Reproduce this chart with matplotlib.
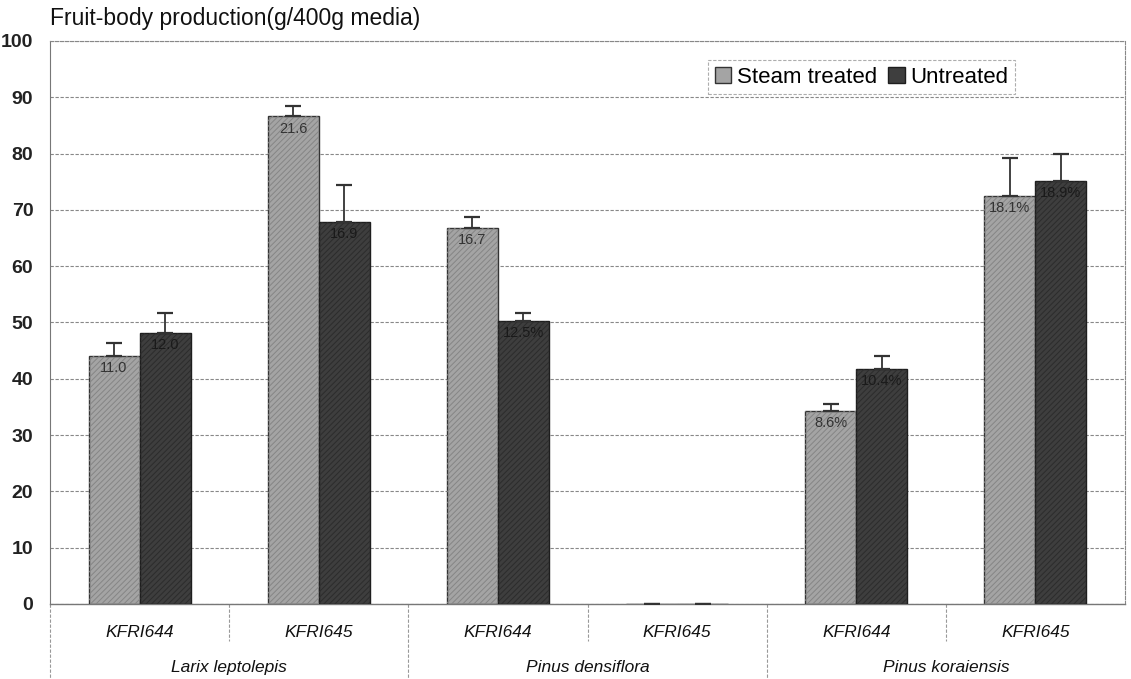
import matplotlib.pyplot as plt
import matplotlib.transforms as mtransforms
import numpy as np

plt.rcParams['font.family'] = ['Liberation Sans', 'DejaVu Sans']
plt.rcParams['hatch.linewidth'] = 0.7

species = ['Larix leptolepis', 'Pinus densiflora', 'Pinus koraiensis']
strains = ['KFRI644', 'KFRI645', 'KFRI644', 'KFRI645', 'KFRI644', 'KFRI645']

steam = [44.0, 86.6, 66.8, 0, 34.3, 72.5]
steam_err = [2.4, 1.9, 2.0, 0, 1.3, 6.8]
untreated = [48.2, 67.9, 50.2, 0, 41.7, 75.2]
untreated_err = [3.5, 6.6, 1.4, 0, 2.3, 4.8]

steam_lbl = ['11.0', '21.6', '16.7', '', '8.6%', '18.1%']
untreated_lbl = ['12.0', '16.9', '12.5%', '', '10.4%', '18.9%']

fig = plt.figure(figsize=(11.31, 6.79), dpi=100)
ax = fig.add_axes([50 / 1131, 1 - 604 / 679, 1075 / 1131, 563 / 679])

x = np.arange(len(strains))
w = 0.285

b1 = ax.bar(x - w / 2, steam, w, color='#a4a4a4', edgecolor='#333333', linewidth=1.0,
            label='Steam treated', zorder=3)
b2 = ax.bar(x + w / 2, untreated, w, color='#3e3e3e', edgecolor='#1e1e1e', linewidth=1.0,
            label='Untreated', zorder=3)
# fine diagonal texture on top of the fills
ax.bar(x - w / 2, steam, w, facecolor='none', edgecolor='#858585', linewidth=0,
       hatch='//////', zorder=3.5)
ax.bar(x + w / 2, untreated, w, facecolor='none', edgecolor='#2c2c2c', linewidth=0,
       hatch='//////', zorder=3.5)

ax.errorbar(x - w / 2, steam, yerr=[np.zeros(6), steam_err], fmt='none', ecolor='#333333',
            elinewidth=1.3, capsize=5.5, capthick=1.6, zorder=4)
ax.errorbar(x + w / 2, untreated, yerr=[np.zeros(6), untreated_err], fmt='none', ecolor='#333333',
            elinewidth=1.3, capsize=5.5, capthick=1.6, zorder=4)

for i in range(len(strains)):
    if steam_lbl[i]:
        ax.text(x[i] - w / 2, steam[i] - 0.9, steam_lbl[i], ha='center', va='top',
                fontsize=10.5, color='#333333', zorder=5)
    if untreated_lbl[i]:
        ax.text(x[i] + w / 2, untreated[i] - 0.9, untreated_lbl[i], ha='center', va='top',
                fontsize=10.5, color='#1a1a1a', zorder=5)

ax.set_xlim(-0.5, len(strains) - 0.5)
ax.set_ylim(0, 100)
ax.set_yticks(range(0, 101, 10))
ax.tick_params(axis='y', length=0, labelsize=14, pad=12)
ax.set_yticklabels([str(v) for v in range(0, 101, 10)], fontweight='bold', color='#222222')
ax.set_xticks([])
ax.yaxis.grid(True, color='#888888', linestyle=(0, (3, 1.5)), linewidth=0.8, zorder=0)
for s in ['top', 'right']:
    ax.spines[s].set_color('#888888')
    ax.spines[s].set_linestyle((0, (3, 1.5)))
    ax.spines[s].set_linewidth(0.8)
ax.spines['left'].set_color('#777777')
ax.spines['left'].set_linewidth(0.8)
ax.spines['bottom'].set_color('#777777')
ax.spines['bottom'].set_linewidth(1.0)

# category labels below the axis
trans = mtransforms.blended_transform_factory(ax.transData, ax.transAxes)
for i, s in enumerate(strains):
    ax.text(x[i], -0.05, s, transform=trans, ha='center', va='center',
            fontsize=12.5, style='italic', color='#111111')
for j, sp in enumerate(species):
    ax.text(2 * j + 0.5, -0.112, sp, transform=trans, ha='center', va='center',
            fontsize=12.5, style='italic', color='#111111')

for k in range(len(strains)):
    xb = k - 0.5
    depth = -0.14 if k % 2 == 0 else -0.065
    ax.plot([xb, xb], [0, depth], transform=trans, color='#999999', linewidth=0.8,
            linestyle=(0, (3, 1.5)), clip_on=False)

leg = ax.legend(loc='upper right', bbox_to_anchor=(0.908, 0.986), ncol=2, fontsize=16,
                frameon=True, fancybox=False, handlelength=0.75, handleheight=0.75,
                handletextpad=0.25, columnspacing=0.5, borderpad=0.3, edgecolor='#999999')
leg.get_frame().set_linestyle((0, (3, 1.5)))
leg.get_frame().set_linewidth(0.8)

fig.text(50 / 1131, 1 - 18 / 679, 'Fruit-body production(g/400g media)', ha='left', va='center',
         fontsize=16.5, color='#111111')

fig.savefig('out.png', dpi=100)
